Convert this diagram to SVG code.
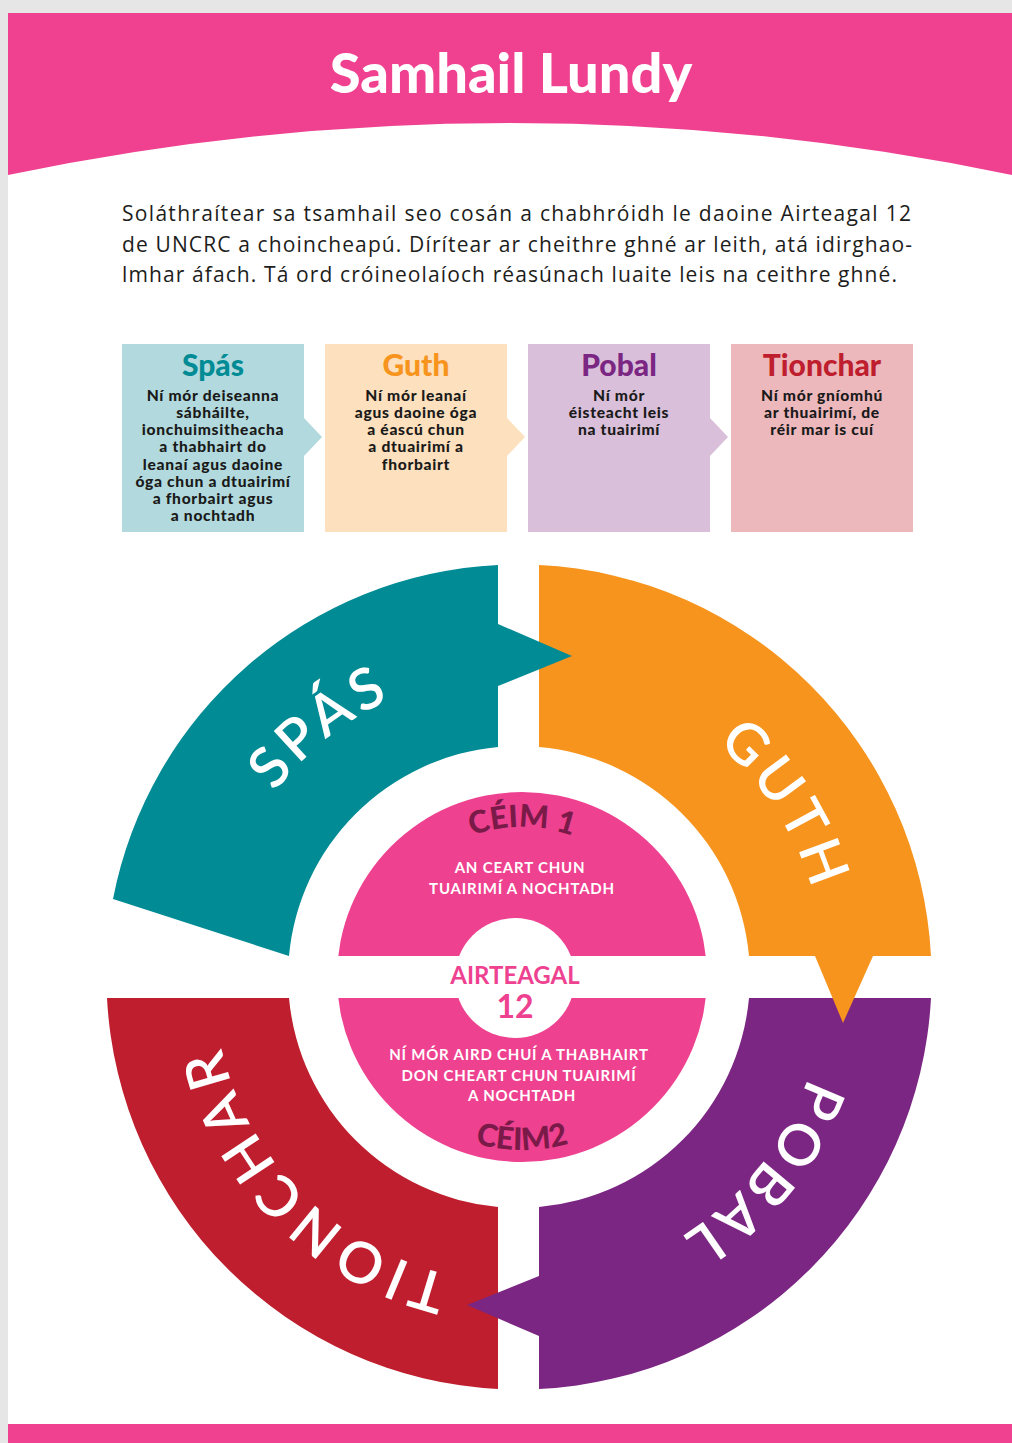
<svg xmlns="http://www.w3.org/2000/svg" width="1012" height="1443" viewBox="0 0 1012 1443">
<defs>
<style>
.sans{font-family:"Lato","Liberation Sans",sans-serif}
.title{font-size:56px;font-weight:900;fill:#ffffff}
.intro{font-family:"Open Sans","Liberation Sans",sans-serif;font-size:21px;font-weight:400;fill:#1d1d1b}
.bhead{font-size:30px;font-weight:900;text-anchor:middle}
.btext{font-size:15.6px;font-weight:900;fill:#1a1a1a;text-anchor:middle;letter-spacing:0.7px}
.ring{font-size:57px;font-weight:600;fill:#ffffff;letter-spacing:5px}
.ceim{font-size:31px;font-weight:900;fill:#7a1a48}
.ctext{font-size:15px;font-weight:700;fill:#ffffff;text-anchor:middle;letter-spacing:0.8px}
.art{font-weight:700;fill:#ee4190;text-anchor:middle}
</style>
<path id="ringPath" d="M 213 977 A 306 306 0 1 1 825 977 A 306 306 0 1 1 213 977"/>
<path id="ceim1Path" d="M 372 977 A 150 150 0 0 1 672 977"/>
<path id="ceim2Path" d="M 349 977 A 173 173 0 0 0 695 977"/>
</defs>

<!-- page background -->
<rect x="0" y="0" width="1012" height="1443" fill="#e6e6e6"/>
<rect x="8" y="13" width="1004" height="1430" fill="#ffffff"/>

<!-- header -->
<g id="header">
<path d="M 8 13 L 1012 13 L 1012 175 Q 510 71 8 175 Z" fill="#ef4190"/>
<text class="sans title" x="511" y="93" text-anchor="middle">Samhail Lundy</text>
</g>

<g id="intro" class="intro">
<text x="122" y="221" textLength="789" lengthAdjust="spacing">Soláthraítear sa tsamhail seo cosán a chabhróidh le daoine Airteagal 12</text>
<text x="122" y="252" textLength="790" lengthAdjust="spacing">de UNCRC a choincheapú. Dírítear ar cheithre ghné ar leith, atá idirghao-</text>
<text x="122" y="282" textLength="775" lengthAdjust="spacing">lmhar áfach. Tá ord cróineolaíoch réasúnach luaite leis na ceithre ghné.</text>
</g>

<!-- boxes -->
<g id="box-spas">
<rect x="122" y="344" width="182" height="188" fill="#b2dade"/>
<path d="M 304 418 L 322 437 L 304 456 Z" fill="#b2dade"/>
<text class="sans bhead" x="213" y="376" fill="#008b95">Spás</text>
<text class="sans btext" x="213" y="401">Ní mór deiseanna</text>
<text class="sans btext" x="213" y="418">sábháilte,</text>
<text class="sans btext" x="213" y="435">ionchuimsitheacha</text>
<text class="sans btext" x="213" y="452">a thabhairt do</text>
<text class="sans btext" x="213" y="470">leanaí agus daoine</text>
<text class="sans btext" x="213" y="487">óga chun a dtuairimí</text>
<text class="sans btext" x="213" y="504">a fhorbairt agus</text>
<text class="sans btext" x="213" y="521">a nochtadh</text>
</g>
<g id="box-guth">
<rect x="325" y="344" width="182" height="188" fill="#fde0bd"/>
<path d="M 507 418 L 525 437 L 507 456 Z" fill="#fde0bd"/>
<text class="sans bhead" x="416" y="376" fill="#f7941d">Guth</text>
<text class="sans btext" x="416" y="401">Ní mór leanaí</text>
<text class="sans btext" x="416" y="418">agus daoine óga</text>
<text class="sans btext" x="416" y="435">a éascú chun</text>
<text class="sans btext" x="416" y="452">a dtuairimí a</text>
<text class="sans btext" x="416" y="470">fhorbairt</text>
</g>
<g id="box-pobal">
<rect x="528" y="344" width="182" height="188" fill="#d9bfd9"/>
<path d="M 710 418 L 728 437 L 710 456 Z" fill="#d9bfd9"/>
<text class="sans bhead" x="619" y="376" fill="#7b2682">Pobal</text>
<text class="sans btext" x="619" y="401">Ní mór</text>
<text class="sans btext" x="619" y="418">éisteacht leis</text>
<text class="sans btext" x="619" y="435">na tuairimí</text>
</g>
<g id="box-tionchar">
<rect x="731" y="344" width="182" height="188" fill="#ecb8bc"/>
<text class="sans bhead" x="822" y="376" fill="#be1e2d">Tionchar</text>
<text class="sans btext" x="822" y="401">Ní mór gníomhú</text>
<text class="sans btext" x="822" y="418">ar thuairimí, de</text>
<text class="sans btext" x="822" y="435">réir mar is cuí</text>
</g>

<!-- ring segments -->
<g id="seg-tionchar">
<path d="M 107 998 L 289 998 A 231 231 0 0 0 498 1207 L 498 1389 A 413 413 0 0 1 107 998 Z" fill="#be1e2d"/>
</g>
<g id="seg-pobal">
<path d="M 749 998 L 931 998 A 413 413 0 0 1 539 1389 L 539 1336 L 467 1305 L 539 1276 L 539 1207 A 231 231 0 0 0 749 998 Z" fill="#7b2682"/>
</g>
<g id="seg-guth">
<path d="M 539 565 A 413 413 0 0 1 931 956 L 873 956 L 843 1023 L 815 956 L 749 956 A 231 231 0 0 0 539 747 Z" fill="#f7941d"/>
</g>
<g id="seg-spas">
<path d="M 498 565 L 498 624 L 572 656 L 498 686 L 498 747 A 231 231 0 0 0 289 956 L 113 899 A 413 413 0 0 1 498 565 Z" fill="#008b95"/>
</g>

<g id="ring-labels" class="sans ring">
<text><textPath href="#ringPath" startOffset="14.3%" text-anchor="middle">SPÁS</textPath></text>
<text><textPath href="#ringPath" startOffset="40.9%" text-anchor="middle">GUTH</textPath></text>
<text><textPath href="#ringPath" startOffset="60.8%" text-anchor="middle">POBAL</textPath></text>
<text><textPath href="#ringPath" startOffset="87.6%" text-anchor="middle" letter-spacing="6px">TIONCHAR</textPath></text>
</g>

<!-- centre -->
<g id="centre">
<circle cx="522" cy="977" r="185" fill="#ee4190"/>
<rect x="330" y="956" width="385" height="42" fill="#ffffff"/>
<circle cx="515" cy="978" r="60" fill="#ffffff"/>
<text class="sans ceim"><textPath href="#ceim1Path" startOffset="50%" text-anchor="middle">CÉIM 1</textPath></text>
<text class="sans ceim"><textPath href="#ceim2Path" startOffset="50%" text-anchor="middle">CÉIM2</textPath></text>
<text class="sans ctext" x="520" y="873">AN CEART CHUN</text>
<text class="sans ctext" x="522" y="894">TUAIRIMÍ A NOCHTADH</text>
<text class="sans art" x="515" y="984" font-size="24">AIRTEAGAL</text>
<text class="sans art" x="515" y="1018" font-size="32">12</text>
<text class="sans ctext" x="519" y="1060">NÍ MÓR AIRD CHUÍ A THABHAIRT</text>
<text class="sans ctext" x="519" y="1081">DON CHEART CHUN TUAIRIMÍ</text>
<text class="sans ctext" x="522" y="1101">A NOCHTADH</text>
</g>

<!-- footer -->
<rect id="footer" x="8" y="1424" width="1004" height="19" fill="#ef4190"/>
</svg>
